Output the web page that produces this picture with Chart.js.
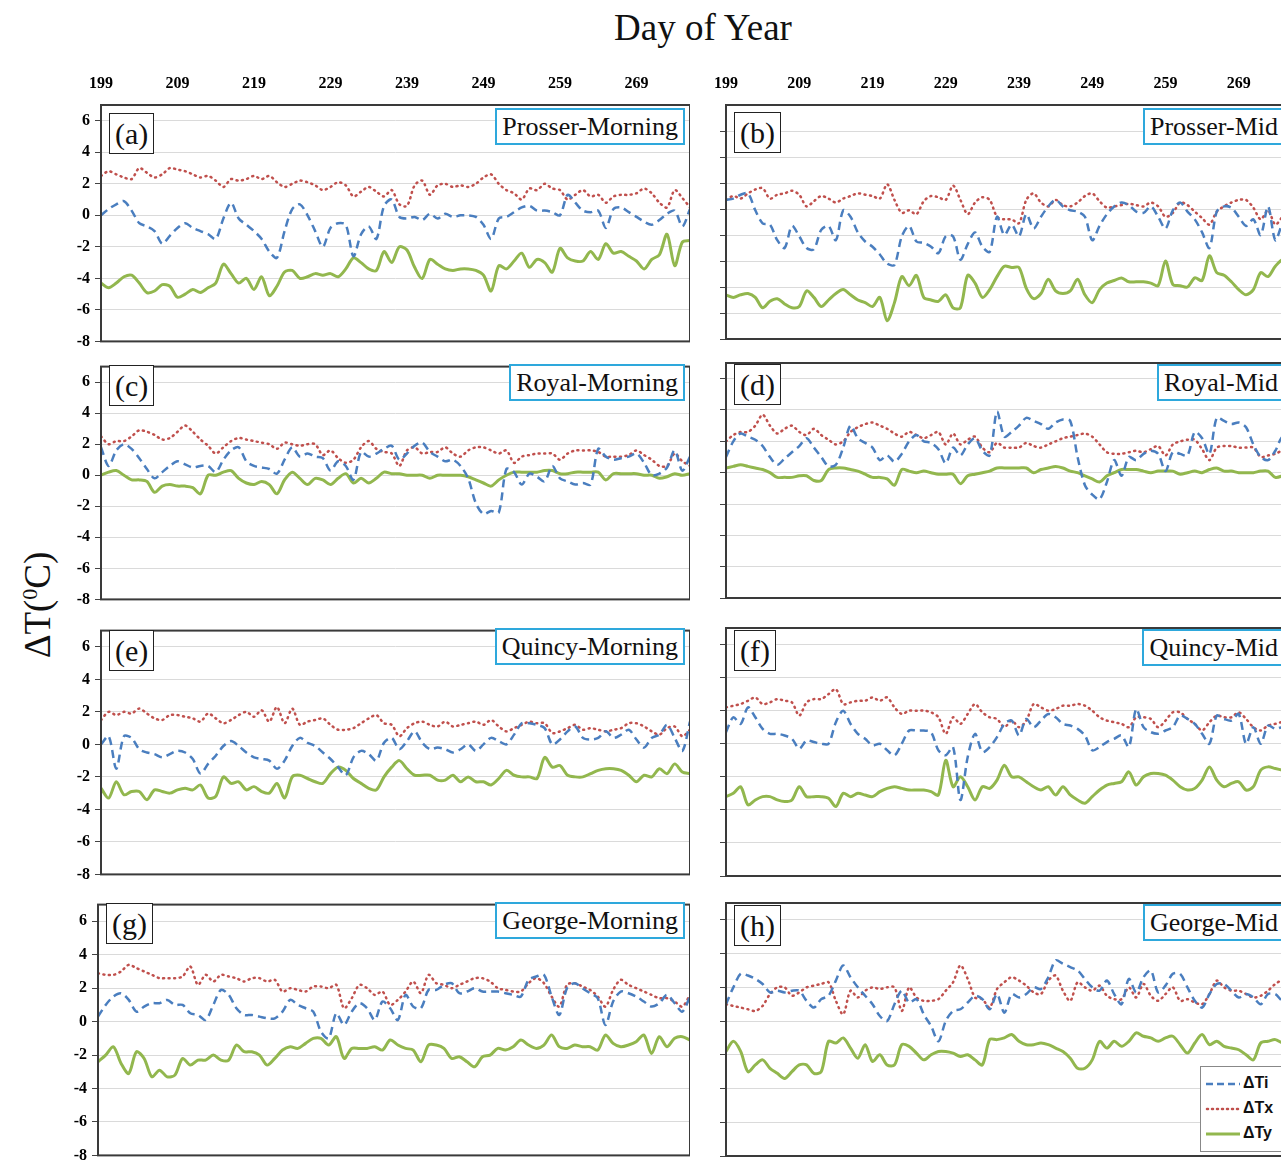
<!DOCTYPE html>
<html>
<head>
<meta charset="utf-8">
<script src="https://cdn.jsdelivr.net/npm/chart.js@4.4.1/dist/chart.umd.min.js"></script>
<style>
  html, body { margin: 0; padding: 0; background: #fff; }
  body { position: relative; width: 1281px; height: 1163px; overflow: hidden; font-family: "Liberation Serif", serif; }
  canvas { position: absolute; }
  .tag { position: absolute; border: 1.5px solid #222; font-size: 30px; line-height: 39px; padding: 0 5px; background: #fff; color: #111; }
  .name { position: absolute; border: 2px solid #2ea8dc; font-size: 26px; line-height: 33px; padding: 0 5px; background: #fff; color: #111; white-space: nowrap; }
  #xtitle { position: absolute; left: 453px; width: 500px; top: 6px; text-align: center; font-size: 37px; color: #111; }
  #ytitle { position: absolute; left: -70px; top: 585px; width: 200px; height: 40px; line-height: 40px; text-align: center; font-size: 37px; color: #111; transform: rotate(-90deg); }
  #ytitle sup { font-size: 22px; }
  #legend { position: absolute; left: 1200px; top: 1066px; width: 110px; height: 84px; border: 1.5px solid #888; background: #fff; font-family: "Liberation Sans", sans-serif; font-weight: bold; font-size: 16px; color: #111; }
  #legend div { position: absolute; left: 4px; height: 20px; line-height: 20px; }
  #legend svg { vertical-align: middle; margin-right: 2px; }
</style>
</head>
<body>
<div id="xtitle">Day of Year</div>
<div id="ytitle">ΔT(<sup>0</sup>C)</div>

<script>
// day of year (x values) and axis ticks
const days = [199,200,201,202,203,204,205,206,207,208,209,210,211,212,213,214,215,216,217,218,
  219,220,221,222,223,224,225,226,227,228,229,230,231,232,233,234,235,236,237,238,
  239,240,241,242,243,244,245,246,247,248,249,250,251,252,253,254,255,256,257,258,
  259,260,261,262,263,264,265,266,267,268,269,270,271,272,273,274,275,276];
const dayTicks = [199, 209, 219, 229, 239, 249, 259, 269];
const yTicks = [-8, -6, -4, -2, 0, 2, 4, 6];
const yTicksTall = [-8, -6, -4, -2, 0, 2, 4, 6, 8];
const seriesNames = ['ΔTi', 'ΔTx', 'ΔTy'];

// (a) Prosser-Morning
const prosserMorningTi = [0.0,0.4,0.7,0.9,0.3,-0.5,-0.7,-1.0,-1.8,-1.3,-0.8,-0.5,-0.8,-1.0,-1.2,-1.5,-0.2,0.8,-0.2,-0.6,
  -1.0,-1.5,-2.3,-2.7,-1.0,0.4,0.7,0.0,-1.0,-2.0,-0.8,-0.5,-0.6,-2.6,-1.2,-0.7,-1.5,0.6,1.0,-0.1,
  -0.2,-0.1,-0.3,0.1,-0.2,0.1,-0.1,0.0,0.0,-0.1,-0.6,-1.5,-0.2,-0.1,0.2,0.5,0.6,0.3,0.3,0.2,
  0.0,1.3,0.8,0.3,0.2,0.3,-0.8,0.4,0.5,0.2,-0.1,-0.4,-0.6,-0.3,0.1,0.3,-0.7,0.4];
const prosserMorningTx = [2.5,2.8,2.6,2.4,2.3,3.0,2.7,2.4,2.6,3.0,2.9,2.8,2.6,2.4,2.5,2.2,1.8,2.3,2.2,2.3,
  2.5,2.3,2.5,2.1,1.8,2.0,2.2,2.1,1.9,1.6,1.8,2.1,1.9,1.2,1.5,1.8,1.5,1.2,1.6,0.7,
  0.6,1.9,2.2,1.3,1.9,2.0,1.8,1.9,1.8,2.0,2.4,2.6,2.0,1.6,1.4,1.0,1.7,1.6,2.0,1.7,
  1.6,1.0,1.3,1.6,1.2,1.3,0.8,1.2,1.3,1.3,1.4,1.7,1.4,0.8,0.5,1.6,1.1,0.5];
const prosserMorningTy = [-4.3,-4.6,-4.3,-3.9,-3.8,-4.3,-4.9,-4.8,-4.4,-4.5,-5.2,-5.0,-4.7,-4.9,-4.6,-4.3,-3.1,-3.7,-4.3,-4.0,
  -4.7,-3.9,-5.1,-4.5,-3.6,-3.5,-4.0,-3.9,-3.7,-3.8,-3.7,-3.9,-3.4,-2.7,-3.0,-3.4,-3.5,-2.3,-3.0,-2.0,
  -2.2,-3.3,-4.0,-2.8,-3.1,-3.4,-3.5,-3.4,-3.4,-3.5,-3.8,-4.8,-3.2,-3.4,-2.9,-2.4,-3.3,-2.8,-3.0,-3.6,
  -2.1,-2.7,-2.9,-2.9,-2.3,-2.8,-1.8,-2.4,-2.3,-2.6,-2.9,-3.4,-2.8,-2.5,-1.2,-3.2,-1.7,-1.6];

// (b) Prosser-Mid
const prosserMidTi = [2.7,2.8,3.1,3.2,1.9,0.9,0.8,-0.4,-1.0,0.7,-0.1,-1.0,-1.1,0.4,0.7,-0.4,1.9,1.4,0.2,-0.5,
  -0.9,-1.5,-2.2,-2.3,-0.1,0.7,-0.5,-0.6,-0.9,-1.4,-0.1,-0.1,-1.9,-0.7,0.2,-0.9,-1.3,1.4,0.0,0.8,
  -0.1,1.6,0.5,1.4,2.2,2.7,2.2,1.9,1.8,1.4,-0.4,0.7,1.6,2.2,2.5,2.3,1.8,1.7,2.2,1.4,
  0.5,1.9,2.5,1.8,1.2,0.2,-1.0,1.8,2.2,2.1,1.4,0.7,1.2,0.0,2.2,-0.4,0.9,1.4];
const prosserMidTx = [2.7,3.0,2.8,3.2,3.5,3.6,2.8,3.1,3.2,3.4,3.1,2.2,2.6,3.0,2.8,2.5,2.8,3.0,3.2,3.1,
  3.0,2.8,3.9,2.7,1.7,1.9,1.6,2.6,3.0,2.9,2.7,3.8,2.7,1.6,2.5,2.9,2.7,1.4,1.2,1.2,
  0.9,2.7,3.2,2.5,2.2,2.7,2.3,2.2,2.5,3.0,3.2,2.6,2.1,2.2,2.3,2.4,2.3,2.2,2.5,2.2,
  1.4,1.7,2.5,2.3,1.8,1.3,0.8,1.8,2.2,2.5,2.7,2.7,2.1,1.2,1.9,0.8,1.4,1.7];
const prosserMidTy = [-4.6,-4.8,-4.6,-4.5,-4.8,-5.6,-5.1,-4.9,-5.3,-5.6,-5.5,-4.3,-4.8,-5.5,-5.0,-4.5,-4.2,-4.6,-5.0,-5.2,
  -5.5,-4.8,-6.6,-5.2,-3.2,-3.9,-3.1,-4.8,-5.0,-5.1,-4.6,-5.6,-5.6,-3.1,-3.7,-4.8,-4.2,-3.2,-2.4,-2.5,
  -2.5,-4.1,-4.9,-4.5,-3.4,-4.3,-4.5,-4.3,-3.4,-4.6,-5.2,-4.2,-3.7,-3.5,-3.3,-3.6,-3.6,-3.6,-3.7,-3.9,
  -2.0,-3.8,-3.9,-4.0,-3.3,-3.5,-1.6,-2.9,-3.1,-3.6,-4.2,-4.6,-4.2,-2.9,-3.2,-2.4,-1.9,-2.2];

// (c) Royal-Morning
const royalMorningTi = [1.8,0.6,1.6,2.0,1.7,1.1,0.4,-0.2,0.2,0.6,0.9,0.7,0.5,0.6,0.6,0.2,1.0,1.6,1.8,0.9,
  0.6,0.5,0.4,0.1,1.0,1.8,1.2,1.4,1.2,1.1,0.3,0.9,0.6,-0.3,1.5,1.2,1.4,1.7,1.9,1.0,
  1.4,1.9,2.1,1.5,1.2,0.9,1.0,0.6,-0.2,-1.8,-2.5,-2.3,-2.4,0.4,0.2,-0.6,0.1,-0.1,-0.4,0.6,
  -0.2,-0.4,-0.6,-0.5,-0.6,1.7,1.2,1.0,1.1,1.2,1.4,0.8,0.0,0.1,0.5,1.6,0.3,1.2];
const royalMorningTx = [2.5,2.0,2.2,2.2,2.5,2.9,2.8,2.6,2.3,2.4,2.8,3.2,2.8,2.3,1.9,1.4,1.8,2.2,2.4,2.3,
  2.2,2.1,2.0,1.7,2.1,2.0,1.9,2.0,2.0,1.3,1.6,1.1,0.8,1.0,1.8,2.2,1.7,1.5,1.4,0.6,
  1.6,1.8,1.4,1.5,1.5,1.8,1.4,1.2,1.6,1.8,1.8,1.6,1.4,1.6,0.8,1.2,1.3,1.4,1.4,1.4,
  1.0,1.4,1.6,1.6,1.6,1.5,1.2,1.2,1.2,1.3,1.6,1.3,1.0,0.6,0.6,1.4,0.9,0.6];
const royalMorningTy = [0.0,0.2,0.3,0.0,-0.3,-0.3,-0.4,-1.1,-0.7,-0.6,-0.7,-0.7,-0.8,-1.2,0.0,0.0,0.2,0.3,-0.2,-0.5,
  -0.6,-0.4,-0.6,-1.2,-0.3,0.2,-0.2,-0.6,-0.2,-0.3,-0.6,-0.2,0.1,-0.5,-0.2,-0.5,-0.2,0.2,0.1,0.1,
  0.0,0.0,0.0,-0.2,0.0,0.0,0.0,0.0,-0.1,-0.3,-0.5,-0.7,-0.3,0.0,0.2,0.2,0.2,0.2,0.3,0.3,
  0.1,0.1,0.2,0.2,0.2,0.2,-0.3,0.1,0.1,0.1,0.1,0.0,0.0,-0.2,-0.1,0.1,0.0,0.1];

// (d) Royal-Mid
const royalMidTi = [1.0,2.0,2.5,2.3,2.1,1.7,1.0,0.5,0.9,1.3,1.7,2.2,1.6,1.0,0.4,0.5,1.6,3.0,2.2,1.9,
  1.6,0.8,1.1,0.7,1.2,2.0,2.4,2.0,1.9,1.5,0.6,1.6,1.1,1.8,2.2,1.4,1.1,3.9,2.3,2.6,
  3.0,3.5,3.3,3.1,2.8,3.2,3.4,3.3,1.0,-0.8,-1.4,-1.7,-0.6,0.8,-0.2,1.0,0.8,1.2,1.4,1.2,
  0.1,1.3,1.2,1.1,2.6,2.2,1.2,3.5,3.3,3.1,3.2,2.9,1.8,1.0,0.8,1.4,2.3,1.8];
const royalMidTx = [2.0,2.4,2.6,2.6,3.0,3.7,3.0,2.5,2.8,3.0,2.6,2.4,2.8,2.4,2.1,1.8,2.0,2.6,2.9,3.1,
  3.2,3.0,2.8,2.5,2.3,2.6,2.4,2.2,2.4,2.6,1.8,2.5,1.8,2.1,2.3,1.6,1.3,1.9,1.6,1.6,
  1.6,1.9,1.7,1.6,1.8,2.0,2.2,2.3,2.4,2.5,2.3,1.8,1.3,1.2,1.2,1.3,1.4,1.3,1.5,1.7,
  1.1,1.8,2.0,2.1,2.1,1.5,0.8,1.6,1.7,1.7,1.6,1.6,1.6,1.0,1.1,1.2,1.4,1.2];
const royalMidTy = [0.3,0.4,0.5,0.4,0.3,0.2,0.0,-0.3,-0.3,-0.3,-0.2,-0.2,-0.5,-0.5,0.2,0.3,0.3,0.2,0.1,-0.1,
  -0.3,-0.3,-0.4,-0.8,0.2,0.1,0.0,0.1,0.0,-0.1,-0.1,-0.1,-0.7,-0.2,-0.1,0.0,0.1,0.3,0.3,0.3,
  0.3,0.3,0.0,0.2,0.3,0.4,0.3,0.1,0.0,-0.2,-0.4,-0.6,-0.2,0.0,0.2,0.2,0.2,0.1,0.0,0.1,
  0.1,0.1,-0.1,0.0,0.1,0.0,0.2,0.3,0.1,0.1,0.0,0.0,0.0,0.1,0.1,-0.3,-0.2,0.0];

// (e) Quincy-Morning
const quincyMorningTi = [0.0,0.5,-1.5,0.5,0.4,-0.3,-0.5,-0.6,-0.8,-0.6,-0.4,-0.5,-0.9,-1.8,-1.2,-0.7,-0.1,0.2,-0.1,-0.5,
  -0.8,-0.9,-1.0,-1.5,-1.0,-0.1,0.4,0.1,-0.1,-0.5,-0.9,-1.4,-1.9,-0.8,-0.4,-0.6,-1.0,0.1,0.4,-0.3,
  0.2,0.8,0.1,-0.3,-0.2,-0.3,-0.5,-0.3,0.0,-0.4,0.0,0.4,0.2,0.0,0.6,1.3,1.3,1.2,1.0,0.0,
  0.3,0.8,1.1,0.4,0.3,0.4,0.8,0.4,0.6,0.9,0.3,-0.2,0.4,0.6,1.2,0.4,-0.4,1.4];
const quincyMorningTx = [1.5,2.0,1.8,2.0,1.9,2.2,1.9,1.6,1.5,1.8,1.8,1.7,1.6,1.4,1.9,1.6,1.3,1.5,1.8,2.0,
  1.7,2.1,1.4,2.3,1.3,2.2,1.2,1.4,1.5,1.6,1.2,0.9,0.9,1.0,1.3,1.6,1.8,1.3,1.2,0.5,
  1.0,1.3,1.4,1.2,1.1,1.4,1.1,1.2,1.3,1.4,1.2,1.5,1.1,0.8,1.0,1.2,1.4,1.3,1.3,0.7,
  0.8,1.0,1.2,0.9,1.0,0.9,0.8,0.9,1.0,1.3,1.3,1.1,0.8,0.6,1.0,1.1,0.5,0.9];
const quincyMorningTy = [-2.7,-3.3,-2.3,-3.1,-2.9,-2.9,-3.4,-2.8,-2.9,-3.0,-2.8,-2.7,-2.8,-2.5,-3.3,-3.2,-2.0,-2.4,-2.3,-2.8,
  -2.6,-2.9,-3.0,-2.4,-3.3,-2.0,-1.9,-2.1,-2.3,-2.4,-1.8,-1.4,-1.6,-2.1,-2.4,-2.7,-2.8,-2.0,-1.4,-1.0,
  -1.5,-1.9,-1.9,-1.9,-2.2,-2.2,-1.9,-2.3,-2.0,-2.3,-2.3,-2.5,-2.1,-1.6,-1.9,-2.0,-2.0,-2.1,-0.8,-1.4,
  -1.3,-1.9,-2.0,-2.0,-1.8,-1.6,-1.5,-1.5,-1.6,-1.9,-2.3,-1.9,-2.0,-1.5,-1.8,-1.2,-1.7,-1.8];

// (f) Quincy-Mid
const quincyMidTi = [0.7,1.6,1.2,2.2,1.6,0.9,0.6,0.6,0.5,0.3,-0.3,0.2,0.1,0.0,0.0,1.3,2.0,1.2,0.6,0.3,
  -0.1,0.0,-0.4,-0.7,0.0,0.8,0.8,0.8,0.7,-0.4,-0.7,-0.2,-3.4,-0.8,0.6,-0.5,-0.2,0.4,1.2,1.4,
  0.5,1.5,1.0,1.4,1.8,1.6,1.2,1.1,0.9,0.5,-0.4,-0.2,0.1,0.3,0.5,-0.2,2.1,1.0,0.7,0.6,
  0.8,1.0,1.7,1.5,1.2,0.6,0.0,1.7,1.5,1.4,1.8,0.0,1.0,0.0,1.1,0.9,1.0,0.8];
const quincyMidTx = [2.2,2.3,2.4,2.6,2.8,2.4,2.5,2.7,2.6,2.5,1.7,2.5,2.7,2.7,3.0,3.3,2.4,2.5,2.6,2.6,
  2.8,2.6,2.8,2.2,1.8,2.0,2.0,2.0,1.9,1.6,0.6,1.6,1.2,1.8,2.4,1.9,1.6,1.5,1.0,1.4,
  1.0,1.4,2.4,2.2,2.0,2.1,2.3,2.3,2.4,2.3,2.0,1.6,1.4,1.3,1.2,1.0,1.6,1.6,1.5,1.0,
  1.4,1.9,1.9,1.5,1.2,0.8,1.3,1.7,1.6,1.6,1.9,1.5,1.0,0.8,1.1,1.2,1.3,1.1];
const quincyMidTy = [-3.2,-3.0,-2.6,-3.7,-3.4,-3.2,-3.2,-3.4,-3.5,-3.4,-2.6,-3.2,-3.2,-3.2,-3.3,-3.8,-3.0,-3.2,-3.0,-3.1,
  -3.2,-2.9,-2.7,-2.6,-2.7,-2.8,-2.8,-2.8,-2.9,-3.1,-1.0,-2.6,-2.0,-2.6,-3.4,-2.6,-2.7,-2.2,-1.3,-2.0,
  -2.0,-2.3,-2.6,-2.8,-2.6,-3.1,-2.6,-3.1,-3.4,-3.6,-3.2,-2.8,-2.5,-2.4,-2.3,-1.7,-2.5,-2.0,-1.8,-1.8,
  -1.9,-2.2,-2.6,-2.8,-2.7,-2.2,-1.4,-2.2,-2.6,-2.4,-2.3,-2.8,-2.6,-1.6,-1.4,-1.5,-1.6,-1.7];

// (g) George-Morning
const georgeMorningTi = [0.3,1.0,1.5,1.7,1.3,0.6,0.9,1.1,1.1,1.3,1.0,1.0,0.5,0.4,0.1,1.0,1.9,1.6,0.8,0.4,
  0.4,0.3,0.2,0.2,0.6,1.3,1.0,0.8,0.6,-0.6,-1.0,0.5,-0.2,0.6,1.1,0.8,0.1,1.2,0.8,0.1,
  1.6,0.9,0.8,1.9,1.9,2.2,2.3,1.7,1.8,2.0,1.8,1.8,1.8,1.7,1.6,1.5,2.5,2.7,2.8,1.5,
  0.4,2.0,2.3,2.0,1.7,1.4,-0.2,1.2,1.8,1.7,1.5,1.2,0.9,1.1,1.6,1.1,0.6,1.5];
const georgeMorningTx = [2.9,2.8,2.8,3.0,3.4,3.2,3.0,2.8,2.6,2.6,2.6,2.7,3.3,2.2,2.8,2.4,2.8,2.7,2.6,2.4,
  2.6,2.6,2.4,2.5,1.8,2.0,1.9,1.8,2.1,2.1,2.0,2.2,0.8,1.4,2.2,2.0,1.6,1.8,1.0,1.3,
  1.8,2.4,1.7,2.8,2.3,2.2,2.0,2.2,2.4,2.6,2.6,2.4,2.0,1.9,1.8,1.8,2.3,2.6,2.3,1.5,
  0.9,2.2,2.3,2.1,1.9,1.5,0.9,1.9,2.5,2.2,2.0,1.8,1.6,1.4,1.4,1.2,0.9,1.6];
const georgeMorningTy = [-2.4,-2.0,-1.5,-2.5,-3.1,-1.8,-2.2,-3.3,-2.9,-3.3,-3.2,-2.2,-2.6,-2.3,-2.3,-2.0,-2.3,-2.3,-1.4,-1.8,
  -1.8,-2.0,-2.6,-2.2,-1.7,-1.5,-1.6,-1.3,-1.0,-1.0,-1.4,-0.9,-2.2,-1.6,-1.6,-1.6,-1.5,-1.7,-1.1,-1.4,
  -1.6,-1.7,-2.4,-1.4,-1.4,-1.6,-2.2,-2.1,-2.4,-2.7,-2.1,-2.0,-1.6,-1.7,-1.5,-1.1,-1.4,-1.6,-1.4,-0.8,
  -1.5,-1.6,-1.4,-1.5,-1.5,-1.7,-0.8,-1.3,-1.5,-1.4,-1.2,-0.8,-1.9,-0.9,-1.5,-1.0,-0.9,-1.1];

// (h) George-Mid
const georgeMidTi = [1.0,2.0,2.8,2.7,2.5,2.2,1.7,1.8,1.7,1.8,1.8,1.2,0.8,1.3,1.5,2.4,3.3,2.6,2.0,1.5,
  1.0,0.3,0.0,1.0,1.8,1.1,1.3,0.4,-0.3,-1.2,0.0,0.6,0.7,1.1,1.5,1.3,0.7,1.6,0.5,1.6,
  1.4,1.6,2.0,1.9,2.6,3.6,3.4,3.2,3.0,2.5,2.0,1.8,2.4,1.6,1.0,2.5,1.7,2.6,3.0,1.7,
  2.1,2.8,2.8,2.0,1.2,0.8,1.6,2.2,2.2,1.8,1.4,1.6,1.4,1.0,1.6,1.6,1.2,1.4];
const georgeMidTx = [1.0,0.9,0.8,0.7,0.6,0.9,1.6,2.0,2.0,1.5,1.7,2.0,2.1,2.2,2.3,1.2,0.4,1.8,1.4,1.8,
  2.0,1.9,2.0,2.0,0.6,2.0,1.4,1.2,1.2,1.3,1.8,2.3,3.3,2.5,1.4,1.3,0.8,1.9,2.3,2.6,
  2.4,2.1,1.7,1.6,2.4,2.7,1.8,1.2,2.3,2.0,1.8,2.1,1.5,1.3,1.3,2.0,1.4,2.2,1.5,1.2,
  1.6,2.0,1.2,1.3,1.1,1.0,1.6,2.4,2.0,1.8,1.8,1.6,1.4,1.5,1.8,2.2,2.4,2.0];
const georgeMidTy = [-1.8,-1.2,-1.8,-3.0,-2.6,-2.3,-2.8,-3.1,-3.4,-3.0,-2.6,-2.6,-3.1,-3.0,-1.2,-1.3,-1.0,-1.6,-2.2,-1.4,
  -2.4,-2.0,-2.6,-2.6,-1.4,-1.5,-1.9,-2.3,-2.0,-1.8,-1.8,-1.9,-2.1,-2.0,-2.3,-2.6,-1.1,-1.1,-1.0,-0.8,
  -1.2,-1.4,-1.4,-1.3,-1.4,-1.6,-1.8,-2.2,-2.8,-2.8,-2.3,-1.2,-1.6,-1.2,-1.5,-1.2,-0.7,-0.9,-1.0,-1.2,
  -1.0,-0.9,-1.4,-1.9,-1.3,-0.8,-1.4,-1.2,-1.5,-1.6,-1.7,-2.0,-2.3,-1.3,-1.2,-1.1,-1.3,-1.2];

// panel layout: box = [left, top, right, bottom] of the plot area in page pixels
const panels = [
  { tag: '(a)', name: 'Prosser-Morning', series: [prosserMorningTi, prosserMorningTx, prosserMorningTy], box: [101, 105, 690, 344], tagDy: 8, nameDy: 3, topRow: true, yMax: 7, ticks: yTicks },
  { tag: '(b)', name: 'Prosser-Mid', series: [prosserMidTi, prosserMidTx, prosserMidTy], box: [726, 105, 1290, 339], tagDy: 7, nameDy: 3, topRow: true, yMax: 10, ticks: yTicksTall },
  { tag: '(c)', name: 'Royal-Morning', series: [royalMorningTi, royalMorningTx, royalMorningTy], box: [101, 364, 690, 602], tagDy: 1, nameDy: 0, yMax: 7, ticks: yTicks },
  { tag: '(d)', name: 'Royal-Mid', series: [royalMidTi, royalMidTx, royalMidTy], box: [726, 363, 1290, 598], tagDy: 1, nameDy: 1, yMax: 7, ticks: yTicks },
  { tag: '(e)', name: 'Quincy-Morning', series: [quincyMorningTi, quincyMorningTx, quincyMorningTy], box: [101, 628, 690, 877], tagDy: 2, nameDy: 0, yMax: 7, ticks: yTicks },
  { tag: '(f)', name: 'Quincy-Mid', series: [quincyMidTi, quincyMidTx, quincyMidTy], box: [726, 628, 1290, 876], tagDy: 2, nameDy: 1, yMax: 7, ticks: yTicks },
  { tag: '(g)', name: 'George-Morning', series: [georgeMorningTi, georgeMorningTx, georgeMorningTy], box: [98, 902, 690, 1158], tagDy: 1, nameDy: 0, yMax: 7, ticks: yTicks },
  { tag: '(h)', name: 'George-Mid', series: [georgeMidTi, georgeMidTx, georgeMidTy], box: [726, 903, 1290, 1156], tagDy: 2, nameDy: 1, yMax: 7, ticks: yTicks }
];

const tickFont = { family: 'Liberation Serif', size: 16, weight: 'bold' };

const lineStyles = [
  { borderColor: '#4a7ebf', borderWidth: 2.5, borderDash: [8, 5], order: 0 },
  { borderColor: '#c0504d', borderWidth: 2.5, borderDash: [1, 4.5], borderCapStyle: 'round', order: 1 },
  { borderColor: '#92b74e', borderWidth: 3, borderDash: [], order: 2 }
];

// dark frame round the plot area
const framePlugin = {
  id: 'frame',
  afterDatasetsDraw: function (chart) {
    const a = chart.chartArea;
    const ctx = chart.ctx;
    ctx.save();
    ctx.strokeStyle = '#3a3a3a';
    ctx.lineWidth = 2;
    ctx.strokeRect(a.left, a.top, a.right - a.left, a.bottom - a.top);
    ctx.restore();
  }
};

panels.forEach(function (p) {
  const [left, top, right, bottom] = p.box;
  const isLeft = left < 400;
  const cLeft = isLeft ? 40 : 700;
  const padTop = p.topRow ? 45 : 12;
  const cTop = top - padTop;
  const cw = right - cLeft;
  const ch = bottom + 12 - cTop;

  const canvas = document.createElement('canvas');
  canvas.width = cw;
  canvas.height = ch;
  canvas.style.left = cLeft + 'px';
  canvas.style.top = cTop + 'px';
  canvas.style.width = cw + 'px';
  canvas.style.height = ch + 'px';
  document.body.appendChild(canvas);

  new Chart(canvas, {
    type: 'line',
    data: {
      datasets: p.series.map(function (vals, k) {
        return Object.assign({
          label: seriesNames[k],
          data: days.map(function (d, i) { return { x: d, y: vals[i] }; }),
          pointRadius: 0,
          tension: 0.3,
          fill: false
        }, lineStyles[k]);
      })
    },
    options: {
      responsive: false,
      animation: false,
      devicePixelRatio: 1,
      layout: { padding: { top: p.topRow ? 0 : 12, bottom: 12, left: 0, right: 0 } },
      plugins: { legend: { display: false }, tooltip: { enabled: false } },
      scales: {
        x: {
          type: 'linear',
          position: 'top',
          min: 199,
          max: 276,
          display: !!p.topRow,
          afterBuildTicks: function (s) { s.ticks = dayTicks.map(function (v) { return { value: v }; }); },
          afterFit: function (s) { s.height = p.topRow ? 45 : 0; },
          grid: { display: false },
          border: { display: false },
          ticks: { font: tickFont, color: '#000', padding: 4, maxRotation: 0, autoSkip: false }
        },
        y: {
          min: -8,
          max: p.yMax,
          afterBuildTicks: function (s) { s.ticks = p.ticks.map(function (v) { return { value: v }; }); },
          afterFit: function (s) { s.width = left - cLeft; },
          grid: { color: '#dadada', lineWidth: 1, tickColor: '#444', tickLength: 6, drawTicks: true },
          border: { display: false },
          ticks: { display: isLeft, font: tickFont, color: '#000', padding: 5 }
        }
      }
    },
    plugins: [framePlugin]
  });

  const tag = document.createElement('div');
  tag.className = 'tag';
  tag.textContent = p.tag;
  tag.style.left = (left + 8) + 'px';
  tag.style.top = (top + p.tagDy) + 'px';
  document.body.appendChild(tag);

  const name = document.createElement('div');
  name.className = 'name';
  name.textContent = p.name;
  name.style.right = (1281 - (right - 5)) + 'px';
  name.style.top = (top + p.nameDy) + 'px';
  document.body.appendChild(name);
});

// legend box in panel (h)
const legend = document.createElement('div');
legend.id = 'legend';
const swatches = [
  '<line x1="1" y1="5" x2="35" y2="5" stroke="#4a7ebf" stroke-width="2.5" stroke-dasharray="7,4"/>',
  '<line x1="2" y1="5" x2="35" y2="5" stroke="#c0504d" stroke-width="2.5" stroke-dasharray="1,4" stroke-linecap="round"/>',
  '<line x1="1" y1="5" x2="35" y2="5" stroke="#92b74e" stroke-width="3"/>'
];
seriesNames.forEach(function (n, k) {
  const row = document.createElement('div');
  row.style.top = (6 + k * 25) + 'px';
  row.innerHTML = '<svg width="36" height="10">' + swatches[k] + '</svg><span>' + n + '</span>';
  legend.appendChild(row);
});
document.body.appendChild(legend);
</script>
</body>
</html>
